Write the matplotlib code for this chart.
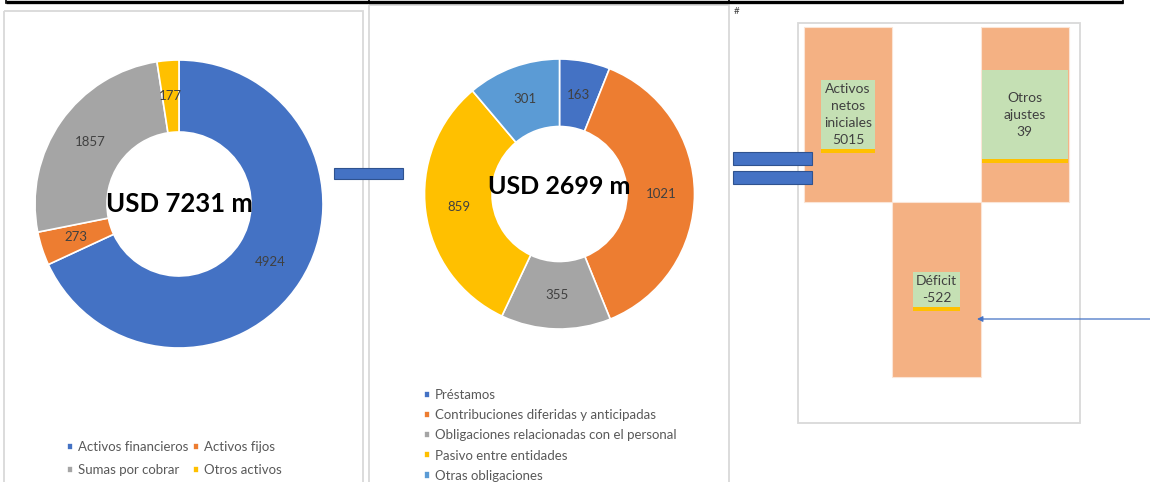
import matplotlib
matplotlib.use("Agg")
import matplotlib.pyplot as plt
from matplotlib.patches import Rectangle
import matplotlib.patheffects as pe

plt.rcParams['font.family'] = ['Lato', 'DejaVu Sans']

# activos (donut izquierdo)
activos_labels = ['Activos financieros', 'Activos fijos', 'Sumas por cobrar', 'Otros activos']
activos_values = [4924, 273, 1857, 177]
activos_total = 'USD 7231 m'

# pasivos (donut central)
pasivos_labels = ['Préstamos', 'Contribuciones diferidas y anticipadas',
                  'Obligaciones relacionadas con el personal', 'Pasivo entre entidades',
                  'Otras obligaciones']
pasivos_values = [163, 1021, 355, 859, 301]
pasivos_total = 'USD 2699 m'

# cambios en activos netos (derecha)
cambios_labels = ['Activos\nnetos\niniciales', 'Déficit', 'Otros\najustes']
cambios_values = [5015, -522, 39]

W, H = 1150, 482
BLUE = '#4472C4'
colors_activos = [BLUE, '#ED7D31', '#A5A5A5', '#FFC000']
colors_pasivos = [BLUE, '#ED7D31', '#A5A5A5', '#FFC000', '#5B9BD5']


def px_axes(fig, x0, y0, x1, y1):
    return fig.add_axes([x0 / W, 1 - y1 / H, (x1 - x0) / W, (y1 - y0) / H])


def donut(ax, values, colors, total, size, ty):
    wedges, _, autotexts = ax.pie(values, colors=colors, startangle=90, counterclock=False,
                                  autopct='%1.0f', pctdistance=0.75,
                                  wedgeprops=dict(width=0.5, edgecolor='white', linewidth=1.2))
    for t, v in zip(autotexts, values):
        t.set_text(str(v))
        t.set_color('#404040')
        t.set_fontsize(9.5)
    ax.set_xlim(-1.0, 1.0)
    ax.set_ylim(-1.0, 1.0)
    ax.text(0, ty, total, ha='center', va='baseline', fontsize=size, fontweight='bold', color='black')
    return wedges


fig = plt.figure(figsize=(W / 100, H / 100), dpi=100)

ax1 = px_axes(fig, 35, 60, 323, 348)
w1 = donut(ax1, activos_values, colors_activos, activos_total, 18.5, -0.056)

ax2 = px_axes(fig, 424.5, 59, 694.5, 329)
w2 = donut(ax2, pasivos_values, colors_pasivos, pasivos_total, 18, 0.0)

# cascada (no a escala)
ax3 = px_axes(fig, 798, 23, 1080, 423)
xs = list(range(len(cambios_values)))
bottoms = [1 if v > 0 else 0 for v in cambios_values]
ax3.bar(xs, [1] * len(xs), bottom=bottoms, width=1.0, color='#F4B183', edgecolor='#FBE5D6', linewidth=0.8)
ax3.set_xlim(-0.568, 2.624)
ax3.set_ylim(-0.263, 2.023)
ax3.axis('off')

pads = [0.22, 0.22, 1.55]
for x, b, lab, v, p in zip(xs, bottoms, cambios_labels, cambios_values, pads):
    t = ax3.text(x, b + 0.5, lab + '\n' + str(v), ha='center', va='center', fontsize=10,
                 linespacing=1.5, color='#404040',
                 bbox=dict(boxstyle='square,pad=%s' % p, fc='#C5E0B4', ec='none'))
    t.get_bbox_patch().set_path_effects([
        pe.SimplePatchShadow(offset=(0, -3), shadow_rgbFace='#FFC000', alpha=1), pe.Normal()])

# capa de decoracion en pixeles
ov = fig.add_axes([0, 0, 1, 1])
ov.set_xlim(0, W)
ov.set_ylim(H, 0)
ov.axis('off')
ov.patch.set_alpha(0)

# bordes de los paneles
for x0, y0, x1, y1 in [(4, 11, 363, 495), (369, 5, 729, 495), (798, 23, 1080, 423)]:
    ov.add_patch(Rectangle((x0, y0), x1 - x0, y1 - y0, fill=False, ec='#D9D9D9', lw=1.3, zorder=1))

# linea negra superior
ov.plot([6, 1123], [1.5, 1.5], color='black', lw=2.4, solid_capstyle='butt')
for x in [6, 369, 729, 1123]:
    ov.plot([x, x], [0, 3], color='black', lw=1.2)
ov.text(734, 12, '#', fontsize=7, color='#404040', ha='left', va='center')

# signos menos / igual
for x0, y0, w, h in [(334, 168, 69, 11), (733, 152, 79, 13), (733, 171, 79, 13)]:
    ov.add_patch(Rectangle((x0, y0), w, h, fc=BLUE, ec='#2F528F', lw=0.8, zorder=5))

ov.annotate('', xy=(977, 319), xytext=(1152, 319),
            arrowprops=dict(arrowstyle='-|>', color=BLUE, lw=0.9, mutation_scale=8, shrinkA=0, shrinkB=0))

# leyendas
order = [0, 2, 1, 3]
leg1 = ov.legend([w1[i] for i in order], [activos_labels[i] for i in order], ncol=2,
                 loc='upper left', bbox_to_anchor=(67, 441), bbox_transform=ov.transData,
                 frameon=False, fontsize=9.5, labelcolor='#595959', borderpad=0, borderaxespad=0,
                 handlelength=0.45, handleheight=0.45, handletextpad=0.35, columnspacing=0.4,
                 labelspacing=0.82)
ov.add_artist(leg1)
ov.legend(w2, pasivos_labels, loc='upper left', bbox_to_anchor=(424, 389), bbox_transform=ov.transData,
          frameon=False, fontsize=9.5, labelcolor='#595959', borderpad=0, borderaxespad=0,
          handlelength=0.45, handleheight=0.45, handletextpad=0.4, labelspacing=0.62)

fig.savefig('out.png', dpi=100)
